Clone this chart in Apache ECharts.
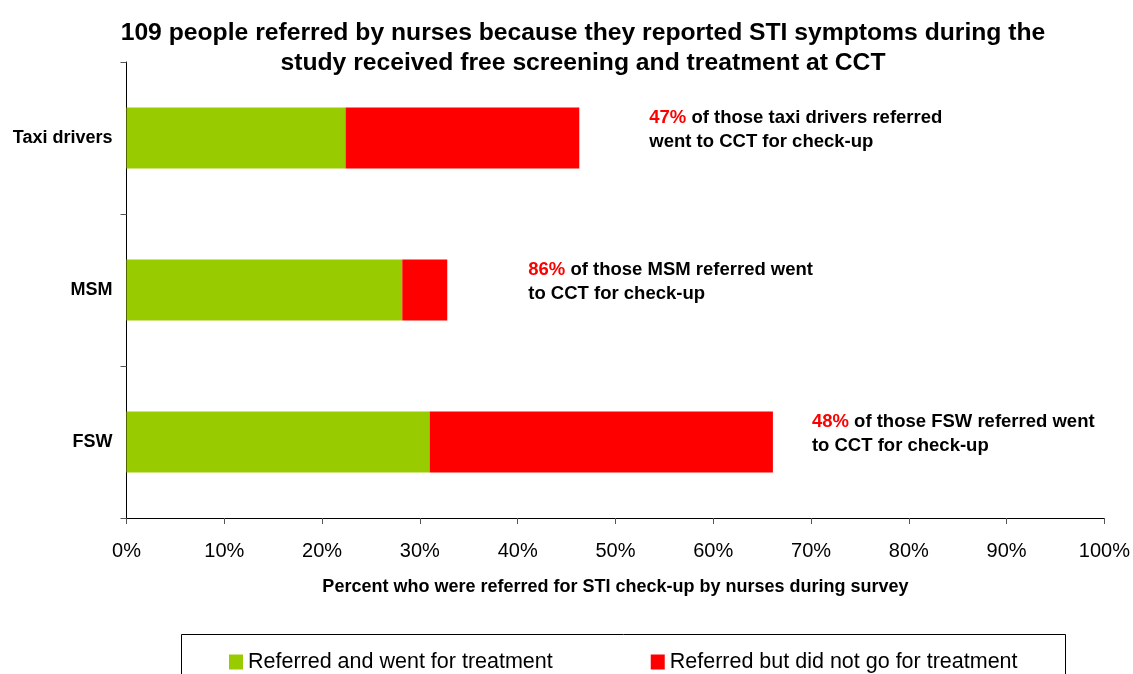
<!DOCTYPE html>
<html lang="en">
<head>
    <meta charset="UTF-8">
    <title>STI referrals</title>
    <script type="text/javascript" src="https://cdn.jsdelivr.net/npm/echarts@6/dist/echarts.min.js"></script>
    <style>
        html, body { margin: 0; padding: 0; background: #fff; }
        #chart { width: 1133px; height: 674px; }
    </style>
</head>
<body>
<div id="chart"></div>
<script type="text/javascript">
    // categories top to bottom
    var groups = ['Taxi drivers', 'MSM', 'FSW'];
    var wentValues = [22.4, 28.2, 31.0];
    var notWentValues = [23.9, 4.6, 35.1];
    var wentShare = ['47%', '86%', '48%'];
    var groupText = ['taxi drivers referred', 'MSM referred went', 'FSW referred went'];
    var secondLine = ['went to CCT for check-up', 'to CCT for check-up', 'to CCT for check-up'];
    var labelShift = [65, 76, 34];
    var xTicks = [0, 10, 20, 30, 40, 50, 60, 70, 80, 90, 100];

    var font = '"Liberation Sans", Arial, sans-serif';
    var chart = echarts.init(document.getElementById('chart'));

    var redData = [];
    for (var i = 0; i < groups.length; i++) {
        redData.push({
            value: notWentValues[i],
            label: {
                show: true,
                position: 'right',
                offset: [labelShift[i], -8],
                formatter: '{r|' + wentShare[i] + '}{b| of those ' + groupText[i] + '}\n{b|' + secondLine[i] + '}',
                rich: {
                    r: { color: '#ff0000', fontWeight: 'bold', fontSize: 18.5, fontFamily: font, lineHeight: 24 },
                    b: { color: '#000', fontWeight: 'bold', fontSize: 18.5, fontFamily: font, lineHeight: 24 }
                }
            }
        });
    }

    var option = {
        animation: false,
        title: {
            text: '109 people referred by nurses because they reported STI symptoms during the\nstudy received free screening and treatment at CCT',
            left: 578,
            top: 13,
            textAlign: 'center',
            textStyle: { fontFamily: font, fontWeight: 'bold', fontSize: 24.7, color: '#000', lineHeight: 30 }
        },
        grid: { left: 126.5, right: 28, top: 62, bottom: 156 },
        legend: {
            left: 224,
            top: 646,
            itemWidth: 14,
            itemHeight: 15,
            itemGap: 98,
            itemTextGap: 7,
            icon: 'rect',
            textStyle: { fontFamily: font, fontSize: 21.5, color: '#000' },
            data: ['Referred and went for treatment', 'Referred but did not go for treatment']
        },
        graphic: [{
            type: 'rect',
            shape: { x: 181.5, y: 634.5, width: 884, height: 60 },
            style: { fill: 'none', stroke: '#000', lineWidth: 1 },
            silent: true
        }],
        xAxis: {
            type: 'value',
            min: 0,
            max: 100,
            interval: 10,
            name: 'Percent who were referred for STI check-up by nurses during survey',
            nameLocation: 'middle',
            nameGap: 60,
            nameTextStyle: { fontFamily: font, fontWeight: 'bold', fontSize: 18, color: '#000' },
            axisLine: { show: true, lineStyle: { color: '#000', width: 1 } },
            axisTick: { show: true, length: 6, lineStyle: { color: '#555' } },
            axisLabel: {
                margin: 23,
                fontFamily: font,
                fontSize: 20,
                color: '#000',
                formatter: function (v) { return xTicks.indexOf(v) >= 0 ? v + '%' : ''; }
            },
            splitLine: { show: false }
        },
        yAxis: {
            type: 'category',
            inverse: true,
            data: groups,
            axisLine: { show: true, lineStyle: { color: '#000', width: 1 } },
            axisTick: { show: true, length: 6, lineStyle: { color: '#555' } },
            axisLabel: { margin: 14, fontFamily: font, fontWeight: 'bold', fontSize: 18, color: '#000' }
        },
        series: [{
            name: 'Referred and went for treatment',
            type: 'bar',
            stack: 'total',
            barWidth: '40%',
            itemStyle: { color: '#99cc00' },
            data: wentValues
        }, {
            name: 'Referred but did not go for treatment',
            type: 'bar',
            stack: 'total',
            barWidth: '40%',
            itemStyle: { color: '#ff0000' },
            data: redData
        }]
    };
    chart.setOption(option);
</script>
</body>
</html>
